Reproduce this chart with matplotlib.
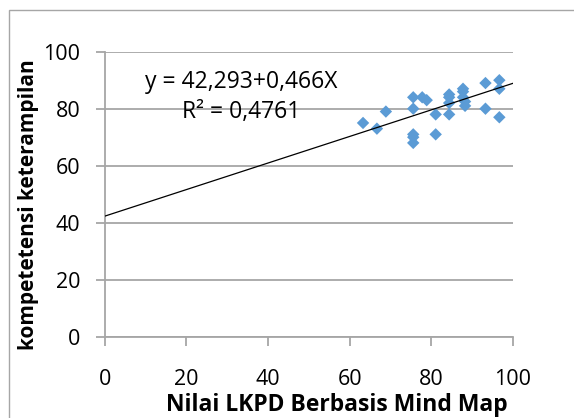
import matplotlib
matplotlib.use("Agg")
import matplotlib.pyplot as plt
from matplotlib.patches import Rectangle

# scores
lkpd = [63.3, 66.7, 68.9, 75.6, 75.6, 75.6, 75.6, 75.6, 77.8, 78.9,
        81.1, 81.1, 84.4, 84.4, 84.4, 84.4, 87.8, 87.8, 87.8, 88.3,
        88.3, 93.3, 93.3, 96.7, 96.7, 96.7]
keterampilan = [75, 73, 79, 84, 80, 71, 70, 68, 84, 83,
                78, 71, 85, 84, 82, 78, 87, 86, 84, 82.5,
                81, 89, 80, 90, 87, 77]
intercept = 42.293
slope = 0.466
ticks = [0, 20, 40, 60, 80, 100]

plt.rcParams['font.family'] = ['Open Sans', 'DejaVu Sans']

fig = plt.figure(figsize=(5.74, 4.18), dpi=100)
fig.patches.append(Rectangle((9 / 574, -0.01), 1.0, 1 - 10 / 418 + 0.01,
                             transform=fig.transFigure, fill=False,
                             edgecolor="#a6a6a6", linewidth=1.0))

ax = fig.add_axes([0.1824, 0.1945, 0.711, 0.6818])
ax.set_xlim(0, 100)
ax.set_ylim(0, 100)
ax.set_xticks(ticks)
ax.set_yticks(ticks)

ax.grid(axis="y", color="#a6a6a6", linewidth=1.3)
ax.set_axisbelow(True)
for side in ["top", "right"]:
    ax.spines[side].set_visible(False)
for side in ["left", "bottom"]:
    ax.spines[side].set_color("#a6a6a6")
    ax.spines[side].set_linewidth(1.3)
ax.tick_params(colors="#a6a6a6", length=6.5, width=1.3, labelsize=15.5,
               labelcolor="black")
ax.tick_params(axis="x", pad=17)
ax.tick_params(axis="y", pad=11)

ax.scatter(lkpd, keterampilan, marker="D", s=40, color="#5b9bd5",
           edgecolors="none", zorder=3)
ax.plot([0, 100], [intercept, intercept + slope * 100], color="black",
        linewidth=0.9, zorder=4)

ax.text(0.335, 0.895, "y = 42,293+0,466X", transform=ax.transAxes,
        ha="center", va="center", fontsize=16.5)
ax.text(0.335, 0.79, "R² = 0,4761", transform=ax.transAxes,
        ha="center", va="center", fontsize=16.5)

fig.text(337 / 574, 1 - 405 / 418, "Nilai LKPD Berbasis Mind Map",
         ha="center", va="center", fontsize=16.5, fontweight="bold")
fig.text(29 / 574, 1 - 205 / 418, "kompetetensi keterampilan",
         ha="center", va="center", rotation=90, fontsize=15,
         fontweight="bold")

fig.savefig("out.png", dpi=100)
